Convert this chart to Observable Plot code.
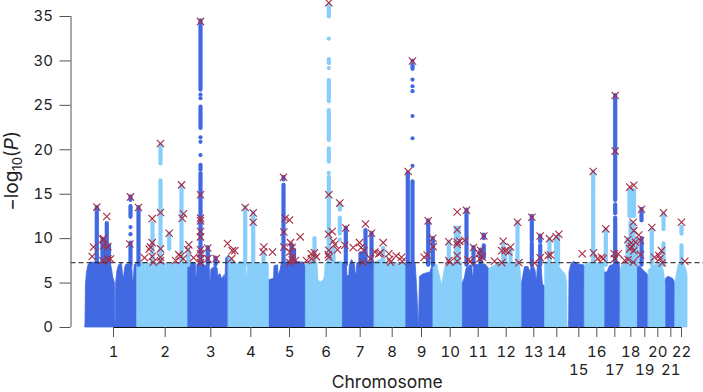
<!DOCTYPE html>
<html><head><meta charset="utf-8">
<script src="https://cdn.jsdelivr.net/npm/d3@7"></script>
<script src="https://cdn.jsdelivr.net/npm/@observablehq/plot@0.6"></script>
<style>html,body{margin:0;padding:0;background:#fff}svg{display:block}svg text{font-family:Inter,sans-serif}</style>
</head><body><div id="chart"></div>
<script>
// Genome position runs from 0 (start of chr 1) to 602 (end of chr 22), arbitrary cumulative units.
const threshold = 7.3;
const tickPos = [28,79.7,125.3,165.3,204,240.7,274.7,306.7,336,364.7,392.7,420.7,448.3,471.3,493.3,511.3,529.3,545.3,559.3,572.3,585.3,596];
const chromLabels = ["1","2","3","4","5","6","7","8","9","10","11","12","13","14","15","16","17","18","19","20","21","22"];
const lowerRow = ["15","17","19","21"];
const yTicks = [0,5,10,15,20,25,30,35];

// Upper envelope of the dense cloud, per chromosome: [position, -log10 P]
const envBlue = [
 [[0,0.5],[0.5,4.9],[1.5,6.2],[3,7],[5,7.3],[25,7.3],[26.4,6.6],[27.8,5.6],[29.4,5],[29.7,1],[30,0.2],[30.3,1],[30.7,5.1],[32,6.4],[33.5,7],[36.5,7.2],[37.5,5.9],[38.5,5.6],[39.8,6.8],[41,7.1],[46.7,7.1],[47.4,5.4],[48.4,5.3],[49.2,7],[52.5,7.3]],
 [[102,6.4],[103,7.1],[107,7.3],[110.3,7.2],[110.7,5.8],[111.5,5.8],[112,7.1],[116.7,7.3],[120,6.9],[124.3,6.8],[124.7,5.3],[125.4,5.3],[125.9,6.5],[130,6.9],[132.2,6.6],[132.7,5.8],[135,6],[136.7,5.4],[139.3,5.9],[140,5.3],[140.7,7.8],[143.3,8]],
 [[183.3,5.3],[188.6,5.5],[189,6.9],[192.6,7],[193,5.8],[195,6.4],[196.5,7.3],[210,7.4],[218,7.3],[220.7,6.8]],
 [[256.3,7.3],[261.4,7],[261.9,5.8],[263.8,5.8],[264.3,7],[266.5,7.6],[269.6,7],[270.3,5.9],[271.3,6.2],[271.8,7.2],[273,7.3],[289.3,7.3]],
 [[320,7.2],[330,7.3],[330.8,6],[332,3.6],[333,0.6],[333.5,0.4],[334,3],[334.5,5.7],[338.3,6],[345,6.2],[347,7],[348,7]],
 [[376.7,4.9],[379.3,5.5],[381,6.6],[385,7],[386.8,6.9],[387.3,5.8],[388.2,5.8],[388.8,7],[400,7.1],[403.5,6.6]],
 [[436,4.7],[437.7,5.7],[439.5,6.8],[443,6.8],[445,6.2],[447,7.3],[450,6.4],[451.5,5.1],[452.4,7],[456,7],[457.3,4.9],[459.7,4.5]],
 [[483.7,1],[484,6.2],[485.7,7],[488.3,7.4],[493,7.1],[498.3,7],[499.7,6.9]],
 [[518.3,6.2],[522,6.2],[524.5,6.9],[534,7.3],[535.3,5.9]],
 [[551.3,7],[555,6.8],[558.3,6.4],[562.7,5.9],[563.3,5.7]],
 [[580,5.3],[581.5,5.6],[583.3,5.7],[587.3,5.5],[589,5.2],[590,4.5]]
];
const envLight = [
 [[52,7.3],[59.6,7.2],[60,6],[60.4,7.2],[79.9,7.2],[80.3,5.5],[80.7,7.2],[102,7.2]],
 [[143.3,7.8],[150,7.3],[151.7,7.1],[155,7.4],[160.6,7.2],[161.1,5.8],[161.9,5.8],[162.4,7.2],[183.3,7.2]],
 [[220.7,7],[225,7.6],[230,7.3],[232,7.2],[232.7,5.6],[233.3,5.2],[235.7,5.1],[238.3,5.3],[239.5,5.8],[240.2,7.2],[256.7,7.4]],
 [[289.3,7.3],[297,7.7],[299.6,7.3],[300,5.9],[300.4,7.3],[306.3,7.3],[306.7,5.5],[307.1,7.3],[312.9,7.2],[313.3,5.5],[313.7,7.2],[320,7.2]],
 [[348.3,7.3],[351.7,7],[354.5,5.7],[356.7,4.7],[358.8,6.2],[360.5,7.2],[376.7,7.3]],
 [[404,6.6],[408,6.9],[415,7.3],[421.3,7.2],[421.7,5.9],[422.1,7.2],[434,7.2],[435,6.6],[436,4.7]],
 [[460,7.3],[466.7,7.1],[469.6,7],[470,6],[470.6,7.2],[476.7,6.4],[480,6],[481.7,5.1],[482,1]],
 [[499.7,7],[505,7.3],[516,7.2],[519,7.1]],
 [[535.3,6.4],[537.5,7.3],[551.7,7.3]],
 [[563.3,6.4],[566.7,6.8],[575,7.3],[578.3,6.4],[580,4.9]],
 [[590,5.1],[593,7],[598.3,7.3],[601.7,6.2],[602,5.8]]
];

// Peak columns: [position, low, high]
const blueColumns = [
 [11.3,7,13.5],[17,7,9.9],[19,7,9.9],[21.3,7,11.7],[23.5,7,9.2],
 [45,14.3,14.7],[45,12.4,13.6],[45,7,9.5],[53,7,13.5],
 [115,26.7,34.5],[115,22.4,24.8],[115,17.7,18.25],[115,7,17.3],[122.3,7,9],[130,7,7.8],
 [198,16.6,16.9],[198,7,16],[206,7,9.3],[208.5,7,8.7],
 [260.3,7,11.2],[275,7,8.3],[277,7,8.3],[280,7,10.9],[286,7,10.6],
 [322.3,7,17.4],[327,7,16.4],[327,29.05,29.5],[342.7,7,12],[347.3,7,10],
 [381,7,13.2],[388,7,9],[395,7,8.7],[398.3,7.8,9.2],[398.3,10,10.4],
 [446.3,9.7,12.5],[446.3,7,9.4],[454.7,9.6,10.3],[454.7,7,9.2],
 [529.7,14.3,26.1],[529.7,12.8,13.8],[529.7,7,12.3],
 [556,12,13.3],[556,9,10],[556,7,8.8]
];
const blueDots = [[45,11.3],[45,10.5],[115,26.2],[115,25.8],[115,21.4],[115,20.9],[115,19.4],
 [327,30],[327,27.9],[327,27.15],[327,26.6],[327,23.8],[327,21.3],[327,18.2]];
const lightColumns = [
 [67,7,11.7],[75,7,16.5],[75,18.4,20.5],[83.7,8.8,10.5],[96,7,15.9],[102.8,7,8.7],
 [159.7,7,13.5],[167.7,7,12.9],[178,7,8.4],
 [229,7,10],[243.3,7,16.9],[243.3,18.6,20.1],[243.3,21.05,24.4],[243.3,25.4,27.8],[243.3,29.7,30.15],[243.3,34.95,36.3],
 [254.3,13.2,13.9],[254.3,10.5,12.3],[248,7,9],
 [297.7,7,8.9],
 [363.3,7,9.6],[370.5,7,11.2],[373,7,11.2],
 [417.7,7,9.4],[419.7,7,8.4],[425,7,8.8],[432,7,11.8],
 [464,7,9.8],[470.5,7,9.9],[472.5,7,10.3],
 [507.7,15.2,17.5],[507.7,7,15],[520.3,7,11],
 [544,12.5,15.4],[546.5,12.5,15.4],[548.5,12.5,15.4],[545,7,11.8],[548,7,11.5],[542,7,9.9],[551,7,9.9],
 [566.3,7,11],[578,11,12.8],[578,7,9.4],
 [596,10.5,11.3],[596,7,9.2]
];
const lightDots = [[243.3,17.4],[243.3,29.2],[243.3,32.5],[254.3,9.9]];

// Lead variants, marked with a cross
const leadPos = [6.7,8,11.3,17.3,18,18,22.3,21.3,17.3,22.3,25,45,44.3,53,59,63.7,66.7,66.7,65,66.7,67.7,75,75,75,75,75,83.7,96,98,96.7,90,93.3,95,97.7,102.3,103.3,108,115,115,115,115,115,115,115,115,115,115,122.3,122.3,130.7,142,146,146.7,149.3,
 159.7,167.7,167.7,178.3,177.7,187,198,199.7,204,198.3,198.3,205,206.7,204.3,206.7,206.7,204.3,210,214.7,221,225.7,229,226,231,243.3,243.3,243,246.7,247.7,243.3,242.7,243.3,249.3,252,254.3,260.3,259.3,267.7,274,275.7,278.3,277.3,280,285,286,289.3,293.3,295,297.7,303.3,304,305,310.7,316,316.7,322.7,327,338.7,341.7,342.7,347.3,347.7,363.3,363.3,364.3,371.7,371.7,371.7,374.3,371.7,371.7,371.7,379,381,382.7,385,388,393.7,394.3,
 395,397,398.3,409,416.3,417.7,416.3,419.7,423.3,425,432,433.3,446.3,449,454.7,454.7,462.7,465,464,470.7,473.3,496.7,507.7,508,512,516,517.7,520.3,529.7,529.7,528.7,532.7,529.3,539.3,542.7,544.3,548.3,547.7,548.3,542.3,545.7,550,544.3,548.3,546,547.7,553.3,555,556,555,566.3,569,573.3,576,574.3,576.7,578,596,599.3];
const leadP = [8,9.05,13.55,9.9,10,9.2,9.1,12.5,7.5,7.7,7.7,14.7,9.4,13.5,7.85,8.8,12.25,9.55,9.05,8,7.35,20.7,12.95,8.85,7.9,7.5,10.6,16.05,12.8,12.3,7.55,8.2,8,7.75,8.75,9.3,7.85,34.45,14.95,12.3,12,10.8,10.2,8.75,8.3,7.75,7.3,8.95,7.75,7.75,9.45,7.75,8.65,8.65,
 13.5,12.9,11.85,9.05,8.5,8.5,16.9,12.3,12.1,10.75,9.05,9.55,9,8.5,7.9,7.6,7.3,7.55,10.2,7.55,8.3,8.4,7.75,7.95,36.55,14.95,10.5,10.8,9.7,8.7,8.2,7.9,9.35,8.75,14,11.2,9.25,9,9.55,9,8.65,7.35,11.65,7.75,10.6,8.5,8.3,8.4,9.55,8.3,7.65,7.35,8.05,7.9,7.45,17.55,30,7.9,8.15,12,10.05,9.1,9.65,7.55,7.35,13,11,9.6,9.7,9.35,8.1,7.45,9.8,13.2,7.6,7.45,9,8.3,7.75,
 8.7,7.9,10.3,7.45,7.3,9.7,8.65,8.65,8.5,9.05,11.85,7.3,12.4,7.25,10.3,7.85,8.1,8.15,10,10.2,10.5,8.3,17.55,8.4,7.75,7.9,7.75,11.1,26.1,19.85,8.3,8.3,7.75,7.55,7.65,15.8,16,11.85,10.9,9.9,9.5,9.6,8.85,8.65,9.1,7.35,10.4,9.8,13.3,8.2,11.25,7.9,8.1,8.65,7.75,7.25,12.9,11.85,7.45];

const BLUE = "#4169E1", LIGHT = "#87CEFA", AXIS = "#555", TEXT = "#222", CROSS = "#a82a42";
const FONT = "Inter, sans-serif";

const upper = tickPos.filter((_, i) => !lowerRow.includes(chromLabels[i]));
const lower = tickPos.filter((_, i) => lowerRow.includes(chromLabels[i]));
const labelAt = new Map(tickPos.map((p, i) => [p, chromLabels[i]]));
const leads = leadPos.map((x, i) => [x, leadP[i]]);

const envMark = (rows, color) => rows.map(r => Plot.areaY(r, {x: d => d[0], y: d => d[1], fill: color, stroke: color, strokeWidth: 0.8, curve: "linear"}));
const colMark = (rows, color) => Plot.ruleX(rows, {x: d => d[0], y1: d => d[1], y2: d => d[2], stroke: color, strokeWidth: 4.2, strokeLinecap: "round"});
const dotMark = (rows, color) => Plot.dot(rows, {x: d => d[0], y: d => d[1], r: 2.1, fill: color});

const plot = Plot.plot({
  width: 703, height: 392,
  marginLeft: 85, marginRight: 16, marginTop: 16, marginBottom: 65,
  style: {fontFamily: FONT, background: "#fff", color: TEXT, overflow: "visible"},
  x: {domain: [0, 602]},
  y: {domain: [0, 35]},
  marks: [
    ...envMark(envBlue, BLUE),
    ...envMark(envLight, LIGHT),
    colMark(lightColumns, LIGHT),
    dotMark(lightDots, LIGHT),
    colMark(blueColumns, BLUE),
    dotMark(blueDots, BLUE),
    Plot.ruleY([threshold], {x1: -14.5, x2: 618, stroke: "#222", strokeWidth: 1.1, strokeDasharray: "5,3", strokeOpacity: 0.85}),
    Plot.dot(leads, {x: d => d[0], y: d => d[1], symbol: "times", r: 3.4, stroke: CROSS, strokeWidth: 1.1, fill: "none"}),
    Plot.ruleY([0], {x1: tickPos[0], x2: tickPos[tickPos.length - 1], stroke: "#111", strokeWidth: 1}),
    Plot.ruleX([-14.5], {y1: 0, y2: 35, stroke: AXIS, strokeWidth: 1}),
    Plot.axisY({ticks: yTicks, anchor: "left", dx: -14.5, tickSize: 11, tickPadding: 7, label: null, fontSize: 15, stroke: AXIS, color: TEXT}),
    Plot.axisX({ticks: upper, anchor: "bottom", tickSize: 10, tickPadding: 9, label: null, fontSize: 15, stroke: AXIS, tickFormat: d => labelAt.get(d)}),
    Plot.axisX({ticks: lower, anchor: "bottom", tickSize: 10, tickPadding: 27, label: null, fontSize: 15, stroke: AXIS, tickFormat: d => labelAt.get(d)}),
    Plot.text(["Chromosome"], {x: [301.7], frameAnchor: "bottom", dy: 60, fontSize: 17.5, fill: TEXT})
  ]
});
document.getElementById("chart").append(plot);

// Rotated y title with subscript and italic
const t = d3.select(plot).append("text")
  .attr("transform", "translate(18,171) rotate(-90)")
  .attr("text-anchor", "middle")
  .attr("font-size", 19).attr("fill", TEXT).attr("font-family", FONT);
t.append("tspan").text("\u2212log");
t.append("tspan").attr("font-size", 13).attr("dy", 4).text("10");
t.append("tspan").attr("dy", -4).text("(");
t.append("tspan").attr("font-style", "italic").text("P");
t.append("tspan").text(")");
</script>
</body></html>
